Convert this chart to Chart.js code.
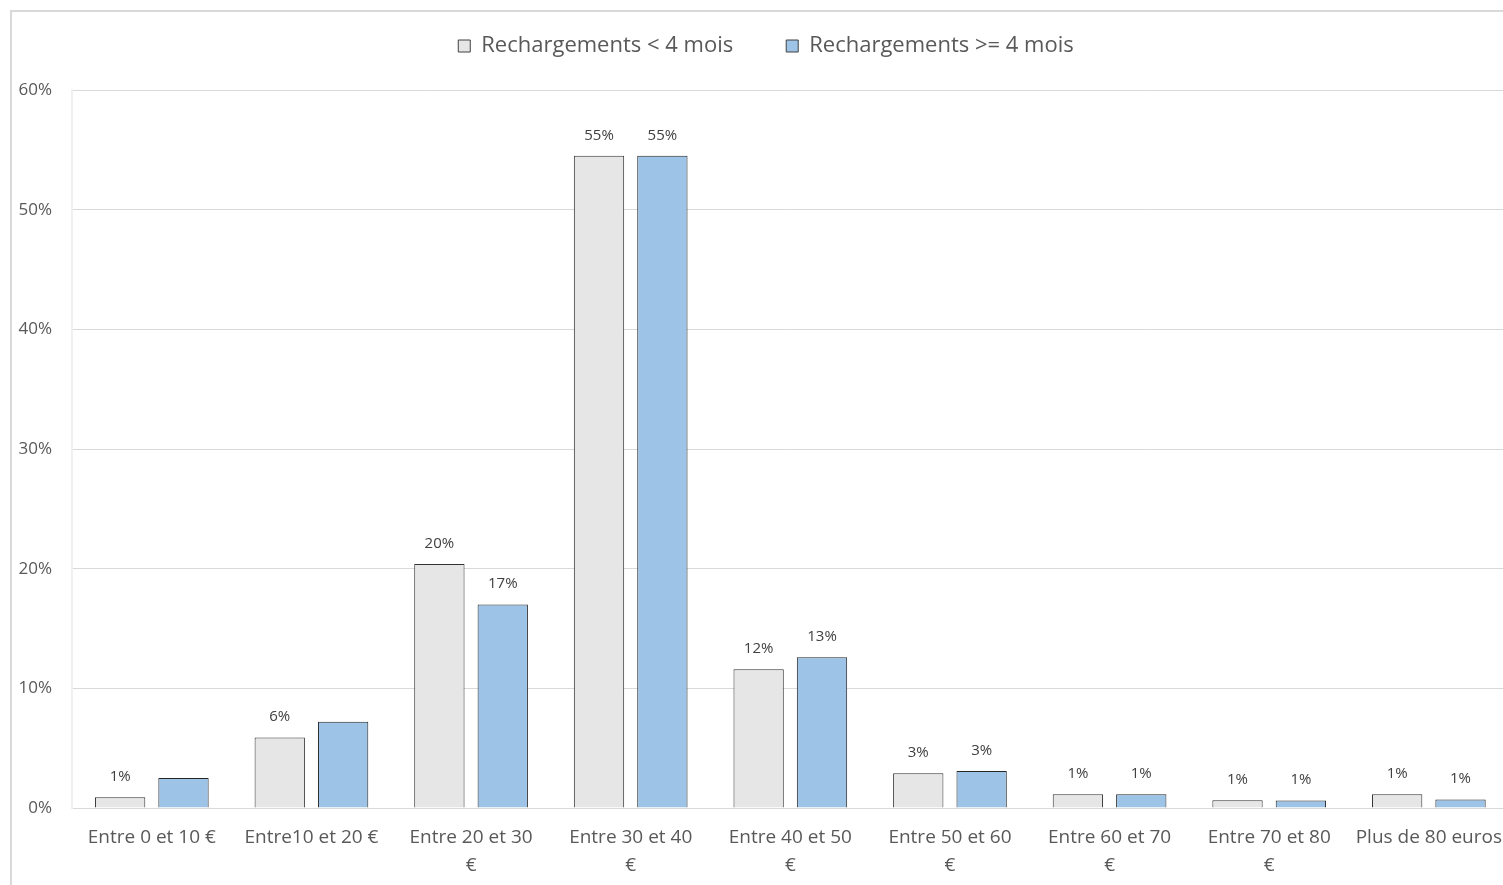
<!DOCTYPE html>
<html lang="fr">
<head>
<meta charset="utf-8">
<title>Rechargements par montant</title>
<script src="https://cdn.jsdelivr.net/npm/chart.js@4/dist/chart.umd.min.js"></script>
<style>
  html, body { margin: 0; padding: 0; background: #ffffff; overflow: hidden; }
  #frame {
    position: absolute; left: 10px; top: 10px; width: 1600px; height: 1000px;
    border-left: 2px solid #d9d9d9; border-top: 2px solid #d9d9d9;
    box-sizing: border-box;
  }
  #wrap { position: absolute; left: 0; top: 0; width: 1518px; height: 885px; }
</style>
</head>
<body>
<div id="frame"></div>
<div id="wrap"><canvas id="chart"></canvas></div>
<script>
// Recharge amount brackets
const categories = [
  'Entre 0 et 10 €',
  'Entre10 et 20 €',
  ['Entre 20 et 30', '€'],
  ['Entre 30 et 40', '€'],
  ['Entre 40 et 50', '€'],
  ['Entre 50 et 60', '€'],
  ['Entre 60 et 70', '€'],
  ['Entre 70 et 80', '€'],
  'Plus de 80 euros'
];

const seriesNames = ['Rechargements < 4 mois', 'Rechargements >= 4 mois'];

// Share of recharges per bracket (fractions)
const shortRecharges = [0.009, 0.059, 0.204, 0.545, 0.116, 0.029, 0.0115, 0.0065, 0.0115];
const longRecharges  = [0.025, 0.072, 0.170, 0.545, 0.126, 0.031, 0.0115, 0.0062, 0.0070];

// Which bars carry a value label
const shortLabelled = [true, true, true, true, true, true, true, true, true];
const longLabelled  = [false, false, true, true, true, true, true, true, true];

const yTicks = [0, 0.1, 0.2, 0.3, 0.4, 0.5, 0.6];

const FONT = '"Open Sans", Lato, "DejaVu Sans", sans-serif';

// Writes the rounded percentage above each labelled bar
const valueLabels = {
  id: 'valueLabels',
  afterDatasetsDraw(chart) {
    const ctx = chart.ctx;
    const flags = [shortLabelled, longLabelled];
    ctx.save();
    ctx.font = '15px ' + FONT;
    ctx.fillStyle = '#404040';
    ctx.textAlign = 'center';
    ctx.textBaseline = 'bottom';
    chart.data.datasets.forEach((ds, di) => {
      const meta = chart.getDatasetMeta(di);
      meta.data.forEach((bar, i) => {
        if (!flags[di][i]) return;
        const txt = Math.round(ds.data[i] * 100) + '%';
        ctx.fillText(txt, bar.x, bar.y - 13);
      });
    });
    ctx.restore();
  }
};

new Chart(document.getElementById('chart'), {
  type: 'bar',
  data: {
    labels: categories,
    datasets: [
      {
        label: seriesNames[0],
        data: shortRecharges,
        backgroundColor: '#e7e6e6',
        borderColor: '#333333',
        borderWidth: 1,
        categoryPercentage: 0.794,
        barPercentage: 0.794
      },
      {
        label: seriesNames[1],
        data: longRecharges,
        backgroundColor: '#9dc3e6',
        borderColor: '#262626',
        borderWidth: 1,
        categoryPercentage: 0.794,
        barPercentage: 0.794
      }
    ]
  },
  options: {
    responsive: true,
    maintainAspectRatio: false,
    animation: false,
    layout: { padding: { top: -18, left: 14, right: 0, bottom: 0 } },
    plugins: {
      legend: {
        position: 'top',
        labels: {
          font: { family: FONT, size: 22 },
          color: '#595959',
          boxWidth: 12,
          boxHeight: 12,
          padding: 53,
          generateLabels(chart) {
            return chart.data.datasets.map((ds, i) => ({
              text: ds.label,
              fillStyle: ds.backgroundColor,
              strokeStyle: '#404040',
              lineWidth: 1,
              fontColor: '#595959',
              hidden: false,
              datasetIndex: i
            }));
          }
        }
      },
      // spacer between the legend and the plot
      title: {
        display: true,
        text: '',
        weight: 500,
        font: { size: 10, lineHeight: 1 },
        padding: { top: 0, bottom: 13 }
      },
      tooltip: { enabled: false }
    },
    scales: {
      x: {
        grid: { display: false, drawTicks: false },
        border: { display: true, color: '#d9d9d9', width: 1 },
        ticks: {
          font: { family: FONT, size: 19, lineHeight: 1.45 },
          color: '#595959',
          maxRotation: 0,
          minRotation: 0,
          autoSkip: false,
          padding: 16
        },
        afterFit(scale) { scale.height = 77; }
      },
      y: {
        min: 0,
        max: 0.6,
        afterBuildTicks(scale) { scale.ticks = yTicks.map(v => ({ value: v })); },
        grid: { color: '#d9d9d9', lineWidth: 1, drawTicks: false },
        border: { display: true, color: '#f0f0f0', width: 2 },
        ticks: {
          font: { family: FONT, size: 17 },
          color: '#595959',
          padding: 20,
          callback: v => Math.round(v * 100) + '%'
        },
        afterFit(scale) { scale.width = 58; }
      }
    }
  },
  plugins: [valueLabels]
});
</script>
</body>
</html>
